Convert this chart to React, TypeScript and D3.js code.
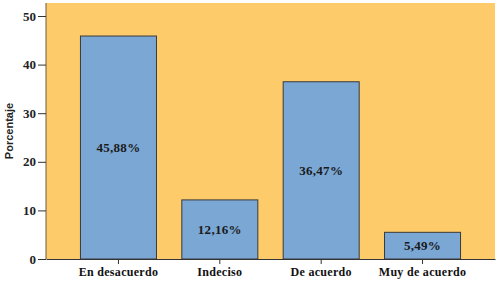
import React, { useEffect, useRef } from "react";
import * as d3 from "d3";

const categories = ["En desacuerdo", "Indeciso", "De acuerdo", "Muy de acuerdo"];
const values = [45.88, 12.16, 36.47, 5.49];
const valueLabels = ["45,88%", "12,16%", "36,47%", "5,49%"];
const yTicks = [0, 10, 20, 30, 40, 50];

const serif = "'Liberation Serif', 'Times New Roman', serif";

function App() {
  const ref = useRef<SVGSVGElement>(null);

  useEffect(() => {
    const width = 502;
    const height = 283;
    const margin = { top: 3, left: 46, bottom: 24, right: 7 };

    const svg = d3.select(ref.current);
    svg.selectAll("*").remove();

    const x = d3.scaleBand()
      .domain(categories)
      .range([margin.left, width - margin.right])
      .paddingInner(0.25)
      .paddingOuter(0.34);

    const y = d3.scaleLinear()
      .domain([0, 50])
      .range([259, 16]);

    // fondo del área de trazado
    svg.append("rect")
      .attr("x", margin.left)
      .attr("y", margin.top)
      .attr("width", width - margin.right - margin.left)
      .attr("height", y(0) - margin.top)
      .attr("fill", "#FECB6A");

    svg.append("g")
      .selectAll("rect")
      .data(values)
      .enter()
      .append("rect")
      .attr("x", (d, i) => x(categories[i]) as number)
      .attr("y", d => y(d))
      .attr("width", x.bandwidth())
      .attr("height", d => y(0) - y(d))
      .attr("fill", "#7AA7D4")
      .attr("stroke", "#3a3a3a")
      .attr("stroke-width", 1);

    svg.append("g")
      .selectAll("text")
      .data(values)
      .enter()
      .append("text")
      .attr("x", (d, i) => (x(categories[i]) as number) + x.bandwidth() / 2)
      .attr("y", d => (y(d) + y(0)) / 2)
      .attr("dy", "0.35em")
      .attr("text-anchor", "middle")
      .style("font-family", serif)
      .style("font-weight", "bold")
      .style("font-size", "13px")
      .style("letter-spacing", "0.3px")
      .attr("fill", "#1a1a1a")
      .text((d, i) => valueLabels[i]);

    // eje Y
    const yAxis = svg.append("g")
      .attr("transform", `translate(${margin.left}, 0)`)
      .call(d3.axisLeft(y).tickValues(yTicks).tickSize(8).tickSizeOuter(0).tickFormat(d3.format("d")));
    yAxis.select(".domain").attr("stroke", "#6b5a45").attr("d", `M0,${margin.top}V${y(0)}`);
    yAxis.selectAll(".tick line").attr("stroke", "#333");
    yAxis.selectAll(".tick text")
      .style("font-family", serif)
      .style("font-weight", "bold")
      .style("font-size", "13px")
      .attr("fill", "#222")
      .attr("x", -10);

    // eje X
    const xAxis = svg.append("g")
      .attr("transform", `translate(0, ${y(0)})`)
      .call(d3.axisBottom(x).tickSize(5).tickSizeOuter(0));
    xAxis.select(".domain").attr("stroke", "#333");
    xAxis.selectAll(".tick line").attr("stroke", "#333");
    xAxis.selectAll(".tick text")
      .style("font-family", serif)
      .style("font-weight", "bold")
      .style("font-size", "12px")
      .style("letter-spacing", "0.3px")
      .attr("fill", "#111")
      .attr("y", 8);

    svg.append("text")
      .attr("transform", `translate(13, ${(margin.top + y(0)) / 2}) rotate(-90)`)
      .attr("text-anchor", "middle")
      .style("font-family", "'Liberation Sans', Arial, sans-serif")
      .style("font-weight", "bold")
      .style("font-size", "11px")
      .attr("fill", "#222")
      .text("Porcentaje");
  }, []);

  return (
    <svg
      ref={ref}
      width={502}
      height={283}
      style={{ position: "absolute", left: 0, top: 0, background: "#fff" }}
    />
  );
}

export default App;
